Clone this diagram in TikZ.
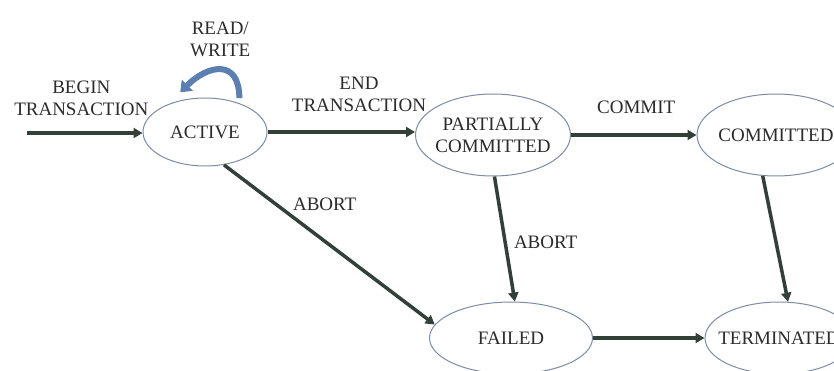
\documentclass[tikz,border=0pt]{standalone}
\usepackage{fontspec}
\setmainfont{Liberation Serif}
\usetikzlibrary{shapes.geometric,arrows.meta}
\definecolor{arr}{HTML}{33403A}
\definecolor{edgec}{HTML}{7D8CA3}
\definecolor{txt}{HTML}{2B2B2B}
\definecolor{loopc}{HTML}{5A7FB0}
\begin{document}
\begin{tikzpicture}[x=1pt,y=-1pt,
  font=\fontsize{19}{22}\selectfont, text=txt,
  st/.style={ellipse, draw=edgec, line width=1pt, inner sep=0pt},
  lab/.style={align=center, inner sep=0pt, text=txt},
  tr/.style={draw=arr, line width=3.5pt, -{Triangle[length=9pt,width=10pt]}},
  rw/.style={draw=loopc, line width=6pt, -{Triangle[length=10pt,width=15pt]}},
  elab/.style={align=center, inner sep=0pt, text=txt}
  ]
\useasboundingbox (0,0) rectangle (834,371);
\clip (0,0) rectangle (834,371);
\fill[white] (0,0) rectangle (834,371);
% states
\node[st, minimum width=124, minimum height=68, label={[lab]center:ACTIVE}] (active) at (205,132) {};
\node[st, minimum width=155, minimum height=82, label={[lab]center:PARTIALLY\\COMMITTED}] (pc) at (493,135) {};
\node[st, minimum width=158, minimum height=82, label={[lab]center:COMMITTED}] (com) at (776,135) {};
\node[st, minimum width=163, minimum height=72, label={[lab]center:FAILED}] (fail) at (511,338) {};
\node[st, minimum width=148, minimum height=72, label={[lab]center:TERMINATED}] (term) at (779,338) {};
\coordinate (start) at (27,133);
% transitions
\draw[tr] (start) -- (start -| active.west) node[elab, pos=0.47, above=16pt] {BEGIN\\TRANSACTION};
\draw[tr] (active.east) -- (active.east -| pc.west) node[elab, pos=0.62, above=19pt] {END\\TRANSACTION};
\draw[tr] (pc.east) -- (pc.east -| com.west) node[elab, pos=0.52, above=20pt] {COMMIT};
\draw[tr] (active.-60) -- (fail.170) node[elab, pos=0.31, anchor=south west, xshift=2pt, yshift=2pt] {ABORT};
\draw[tr] (pc.-88) -- (fail.84) node[elab, pos=0.53, anchor=west, xshift=7pt] {ABORT};
\draw[tr] (com.-108) -- (term.76);
\draw[tr] (fail.east) -- (term.west);
% read/write loop
\draw[rw] ([yshift=5pt]active.40) to[out=90,in=45,looseness=1.7]
  node[elab, midway, above=10pt] {READ/\\WRITE} ([yshift=8pt]active.128);
\end{tikzpicture}
\end{document}
